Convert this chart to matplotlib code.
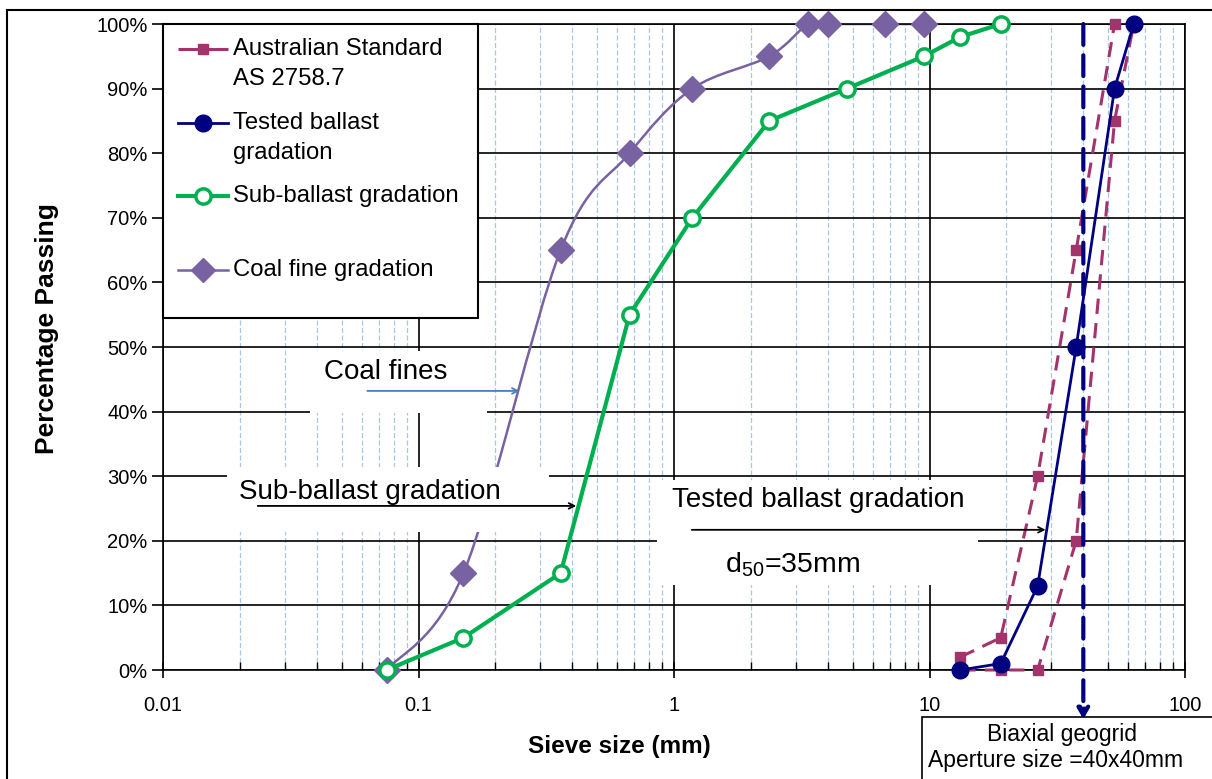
import matplotlib
matplotlib.use("Agg")
import matplotlib.pyplot as plt
import numpy as np
from matplotlib.path import Path
from matplotlib.patches import PathPatch, Rectangle
from matplotlib.lines import Line2D
from matplotlib.ticker import FixedLocator, LogLocator, NullFormatter

plt.rcParams['font.family'] = ['Liberation Sans', 'DejaVu Sans']
plt.rcParams['mathtext.fontset'] = 'custom'
plt.rcParams['mathtext.rm'] = 'Liberation Sans'

# grading curves: sieve size (mm) vs percentage passing
as_upper_size = [13.2, 19, 26.5, 37.5, 53, 63]
as_upper_pass = [2, 5, 30, 65, 100, 100]
as_lower_size = [13.2, 19, 26.5, 37.5, 53, 63]
as_lower_pass = [0, 0, 0, 20, 85, 100]

ballast_size = [13.2, 19, 26.5, 37.5, 53, 63]
ballast_pass = [0, 1, 13, 50, 90, 100]

sub_size = [0.075, 0.15, 0.36, 0.67, 1.18, 2.36, 4.75, 9.5, 13.2, 19]
sub_pass = [0, 5, 15, 55, 70, 85, 90, 95, 98, 100]

coal_size = [0.075, 0.15, 0.36, 0.67, 1.18, 2.36, 3.35, 4.0, 6.7, 9.5]
coal_pass = [0, 15, 65, 80, 90, 95, 100, 100, 100, 100]

geogrid_aperture = 40

legend_labels = ["Australian Standard\nAS 2758.7", "Tested ballast\ngradation",
                 "Sub-ballast gradation", "Coal fine gradation"]

c_as = '#A3346B'
c_bal = '#000080'
c_sub = '#00B050'
c_coal = '#7862A2'


def smooth_path(xs, ys):
    # bezier through the points, built in log-x space
    lx = np.log10(xs)
    pts = np.column_stack([lx, ys]).astype(float)
    n = len(pts)
    verts = [pts[0]]
    codes = [Path.MOVETO]
    for i in range(n - 1):
        p0 = pts[max(i - 1, 0)]
        p1 = pts[i]
        p2 = pts[i + 1]
        p3 = pts[min(i + 2, n - 1)]
        c1 = p1 + (p2 - p0) / 6.0
        c2 = p2 - (p3 - p1) / 6.0
        verts += [c1, c2, p2]
        codes += [Path.CURVE4] * 3
    verts = np.array(verts)
    verts[:, 0] = 10 ** verts[:, 0]
    return Path(verts, codes)


fig = plt.figure(figsize=(12.12, 7.79), dpi=100)
ax = fig.add_axes([163 / 1212, 1 - 670 / 779, 1022 / 1212, 646 / 779])

ax.set_xscale('log')
ax.set_xlim(0.01, 100)
ax.set_ylim(0, 100)

# grid
ax.xaxis.set_major_locator(FixedLocator([0.01, 0.1, 1, 10, 100]))
ax.xaxis.set_minor_locator(LogLocator(base=10, subs=np.arange(2, 10)))
ax.xaxis.set_minor_formatter(NullFormatter())
ax.set_xticklabels(['0.01', '0.1', '1', '10', '100'])
ax.set_yticks(np.arange(0, 101, 10))
ax.set_yticklabels([f'{v}%' for v in range(0, 101, 10)])
ax.grid(which='major', color='black', linewidth=1.2, zorder=0)
ax.grid(which='minor', axis='x', color='#A9C7E6', linestyle=(0, (4, 2)), linewidth=0.9, zorder=0)
ax.set_axisbelow(True)

ax.tick_params(axis='x', which='major', direction='inout', length=12, width=1.2,
               labelsize=14.5, pad=13)
ax.tick_params(axis='x', which='minor', direction='in', length=6, width=1)
ax.tick_params(axis='y', which='major', direction='out', length=8, width=1.2,
               labelsize=14.5, pad=3)
for s in ax.spines.values():
    s.set_linewidth(1.2)
    s.set_color('black')

# coal fines: smoothed line
ax.add_patch(PathPatch(smooth_path(coal_size, coal_pass), facecolor='none',
                       edgecolor=c_coal, linewidth=1.8, zorder=2))
ax.plot(coal_size, coal_pass, linestyle='none', marker='D', markersize=13,
        color=c_coal, zorder=4, clip_on=False)

ax.plot(sub_size, sub_pass, color=c_sub, linewidth=3, marker='o', markersize=11,
        markerfacecolor='white', markeredgewidth=2.5, zorder=4, clip_on=False)

dash = (0, (5, 3))
ax.plot(as_upper_size, as_upper_pass, color=c_as, linewidth=2.2, linestyle=dash,
        marker='s', markersize=7, zorder=5, clip_on=False)
ax.plot(as_lower_size, as_lower_pass, color=c_as, linewidth=2.2, linestyle=dash,
        marker='s', markersize=7, zorder=5, clip_on=False)

ax.plot(ballast_size, ballast_pass, color=c_bal, linewidth=2, marker='o',
        markersize=12, zorder=6, clip_on=False)

# white text boxes with labels and arrows
boxes = [((0.0375, 39.8), (0.186, 49.4)),
         ((0.0178, 21.4), (0.325, 31.4)),
         ((0.859, 13.2), (15.5, 29.4))]
for (x0, y0), (x1, y1) in boxes:
    ax.add_patch(Rectangle((x0, y0), x1 - x0, y1 - y0, facecolor='white',
                           edgecolor='none', zorder=3))

ax.text(0.0743, 46.1, 'Coal fines', fontsize=20, ha='center', va='center', zorder=7)
ax.annotate('', xy=(0.255, 43.2), xytext=(0.0615, 43.2),
            arrowprops=dict(arrowstyle='->', color='#4A7EBB', lw=1.3), zorder=7)

ax.text(0.0644, 27.6, 'Sub-ballast gradation', fontsize=20, ha='center', va='center', zorder=7)
ax.annotate('', xy=(0.425, 25.4), xytext=(0.0229, 25.4),
            arrowprops=dict(arrowstyle='->', color='black', lw=1.3), zorder=7)

ax.text(3.68, 26.3, 'Tested ballast gradation', fontsize=20, ha='center', va='center', zorder=7)
ax.annotate('', xy=(29.2, 21.7), xytext=(1.145, 21.7),
            arrowprops=dict(arrowstyle='->', color='black', lw=1.3), zorder=7)
ax.text(2.9, 16.3, r'$\mathregular{d_{50}}$=35mm', fontsize=20.5, ha='center',
        va='center', zorder=7)

# geogrid aperture marker
ax.annotate('', xy=(geogrid_aperture, -7.6), xytext=(geogrid_aperture, 100),
            annotation_clip=False,
            arrowprops=dict(arrowstyle='-|>,head_width=0.35,head_length=0.6',
                            color=c_bal, lw=3, linestyle=(0, (5, 2.5)),
                            shrinkA=0, shrinkB=0), zorder=8)

ax.set_xlabel('Sieve size (mm)', fontsize=17.5, fontweight='bold')
ax.set_ylabel('Percentage Passing', fontsize=19, fontweight='bold')
ax.xaxis.set_label_coords(0.447, -0.1)
ax.yaxis.set_label_coords(-0.102, 0.529)

# legend box
leg_right = (478 - 163) / 1022
leg_bottom = (670 - 318) / 646
ax.add_patch(Rectangle((0, leg_bottom), leg_right, 1 - leg_bottom, transform=ax.transAxes,
                       facecolor='white', edgecolor='black', linewidth=1.5, zorder=9,
                       clip_on=False))
row_px = [49, 123, 196, 270]
styles = [dict(color=c_as, linestyle=(0, (7.5, 1.5)), linewidth=2.2, marker='s', markersize=7),
          dict(color=c_bal, linewidth=2, marker='o', markersize=12),
          dict(color=c_sub, linewidth=3, marker='o', markersize=11,
               markerfacecolor='white', markeredgewidth=2.5),
          dict(color=c_coal, linewidth=1.8, marker='D', markersize=12)]
hx0, hx1, tx = [(p - 163) / 1022 for p in (178, 228, 233)]
for py, label, st in zip(row_px, legend_labels, styles):
    ya = (670 - py) / 646
    ax.add_line(Line2D([hx0, hx1], [ya, ya], transform=ax.transAxes, zorder=10,
                       clip_on=False, **{k: v for k, v in st.items() if not k.startswith('marker')}))
    ax.add_line(Line2D([(hx0 + hx1) / 2], [ya], transform=ax.transAxes, zorder=11,
                       clip_on=False, linestyle='none',
                       **{k: v for k, v in st.items() if k not in ('linestyle', 'linewidth')}))
    for j, line in enumerate(label.split('\n')):
        ax.text(tx, ya - j * 30 / 646, line, transform=ax.transAxes, fontsize=17.2,
                ha='left', va='center', zorder=11)

# figure frame and geogrid note box
fig.add_artist(Line2D([7 / 1212, 1], [1 - 10 / 779, 1 - 10 / 779], transform=fig.transFigure,
                      color='black', linewidth=1.5))
fig.add_artist(Line2D([7 / 1212, 7 / 1212], [0, 1 - 10 / 779], transform=fig.transFigure,
                      color='black', linewidth=1.5))
fig.add_artist(Rectangle((922 / 1212, -0.01), 0.3, 1 - 717 / 779 + 0.01,
                         transform=fig.transFigure, facecolor='white',
                         edgecolor='black', linewidth=1.2))
fig.text(1062 / 1212, 1 - 734 / 779, 'Biaxial geogrid', fontsize=16.5, ha='center', va='center')
fig.text(928 / 1212, 1 - 761 / 779, 'Aperture size =40x40mm', fontsize=16.5, ha='left', va='center')

fig.savefig('out.png', dpi=100)
